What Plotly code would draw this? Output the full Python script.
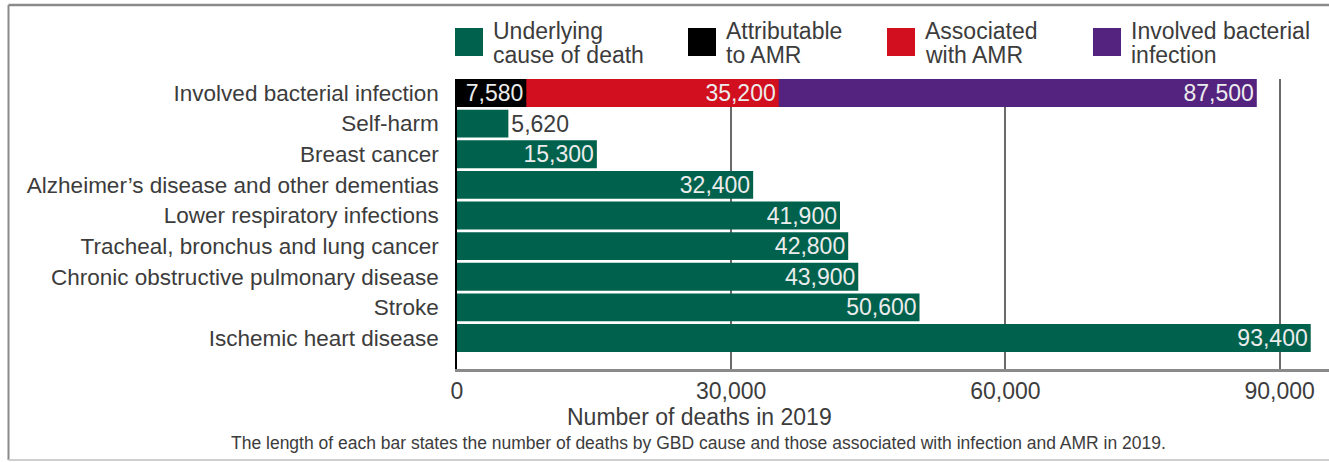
import plotly.graph_objects as go

# ---- data ----
categories = [
    "Involved bacterial infection",
    "Self-harm",
    "Breast cancer",
    "Alzheimer’s disease and other dementias",
    "Lower respiratory infections",
    "Tracheal, bronchus and lung cancer",
    "Chronic obstructive pulmonary disease",
    "Stroke",
    "Ischemic heart disease",
]
underlying_categories = categories[1:]
underlying_values = [5620, 15300, 32400, 41900, 42800, 43900, 50600, 93400]
involved_values = [87500]
associated_values = [35200]
attributable_values = [7580]
x_ticks = [0, 30000, 60000, 90000]
x_ticklabels = ["0", "30,000", "60,000", "90,000"]

legend_names = [
    ("Underlying", "cause of death"),
    ("Attributable", "to AMR"),
    ("Associated", "with AMR"),
    ("Involved bacterial", "infection"),
]

# ---- styles ----
W, H = 1329, 462
ML, MR, MT, MB = 457, 0, 79, 93
FONT = "Liberation Sans, Arial, Helvetica, sans-serif"
TXT = "#3c3c3c"
LIGHT = "#ececec"
GREEN = "#00624c"
BLACK = "#000000"
RED = "#d20f1e"
PURPLE = "#54227f"
legend_colors = [GREEN, BLACK, RED, PURPLE]

pw = W - ML - MR
ph = H - MT - MB


def px(x):
    return (x - ML) / pw


def py(y):
    return (H - MB - y) / ph


fig = go.Figure()

# Underlying causes
text_pos = ["outside" if v < 10000 else "inside" for v in underlying_values]
text_col = [TXT if v < 10000 else LIGHT for v in underlying_values]
fig.add_trace(go.Bar(
    y=underlying_categories, x=underlying_values, orientation="h",
    marker=dict(color=GREEN, line=dict(width=0)),
    texttemplate="%{x:,}", textposition=text_pos, insidetextanchor="end",
    textfont=dict(size=23, color=text_col, family=FONT),
    constraintext="none", cliponaxis=False, name="Underlying cause of death",
))
for vals, col, nm in [
    (involved_values, PURPLE, "Involved bacterial infection"),
    (associated_values, RED, "Associated with AMR"),
    (attributable_values, BLACK, "Attributable to AMR"),
]:
    fig.add_trace(go.Bar(
        y=[categories[0]], x=vals, orientation="h",
        marker=dict(color=col, line=dict(width=0)),
        texttemplate="%{x:,}", textposition="inside", insidetextanchor="end",
        textfont=dict(size=23, color=LIGHT, family=FONT),
        constraintext="none", name=nm,
    ))

shapes = []
annotations = []

# legend
sq_x = [455, 688, 887, 1093]
for i, (l1, l2) in enumerate(legend_names):
    x0 = sq_x[i]
    shapes.append(dict(type="rect", xref="paper", yref="paper",
                       x0=px(x0), x1=px(x0 + 28), y0=py(56), y1=py(28),
                       fillcolor=legend_colors[i], line=dict(width=0)))
    for txt, yy in [(l1, 31), (l2, 55)]:
        annotations.append(dict(xref="paper", yref="paper", x=px(x0 + 36), y=py(yy),
                                text=txt, showarrow=False, xanchor="left", yanchor="middle",
                                font=dict(size=23, color=TXT, family=FONT)))

# axis title and caption
annotations.append(dict(xref="paper", yref="paper", x=px(699), y=py(417),
                        text="Number of deaths in 2019", showarrow=False,
                        xanchor="center", yanchor="middle",
                        font=dict(size=23, color=TXT, family=FONT)))
annotations.append(dict(xref="paper", yref="paper", x=px(698), y=py(443),
                        text="The length of each bar states the number of deaths by GBD cause and those associated with infection and AMR in 2019.",
                        showarrow=False, xanchor="center", yanchor="middle",
                        font=dict(size=17.5, color=TXT, family=FONT)))

# frame
FR = "#8a8a8a"
shapes.append(dict(type="line", xref="paper", yref="paper", x0=px(8.5), x1=px(1329),
                   y0=py(5), y1=py(5), line=dict(color=FR, width=2.5)))
shapes.append(dict(type="line", xref="paper", yref="paper", x0=px(8.5), x1=px(8.5),
                   y0=py(5), y1=py(460), line=dict(color=FR, width=2)))
shapes.append(dict(type="line", xref="paper", yref="paper", x0=px(8.5), x1=px(1329),
                   y0=py(460), y1=py(460), line=dict(color="#cfcfcf", width=2)))

fig.update_layout(
    width=W, height=H,
    margin=dict(l=ML, r=MR, t=MT, b=MB, pad=0),
    barmode="overlay", bargap=0.09,
    plot_bgcolor="white", paper_bgcolor="white",
    showlegend=False,
    font=dict(family=FONT, color=TXT, size=22),
    shapes=shapes, annotations=annotations,
)
fig.update_xaxes(
    range=[0, 95400], tickvals=x_ticks, ticktext=x_ticklabels,
    showgrid=True, gridcolor="#6a6a6a", gridwidth=1.5,
    showline=True, linecolor="#8a8a8a", linewidth=2.5,
    zeroline=False, ticks="", tickfont=dict(size=23, color=TXT, family=FONT),
)
fig.update_yaxes(
    categoryorder="array", categoryarray=categories[::-1],
    range=[-1.012, 8.457], showgrid=False, zeroline=False,
    showline=True, linecolor="#000000", linewidth=1.5,
    ticks="", ticklabelstandoff=12,
    tickfont=dict(size=22.5, color=TXT, family=FONT),
)

fig.write_html("out.html")
